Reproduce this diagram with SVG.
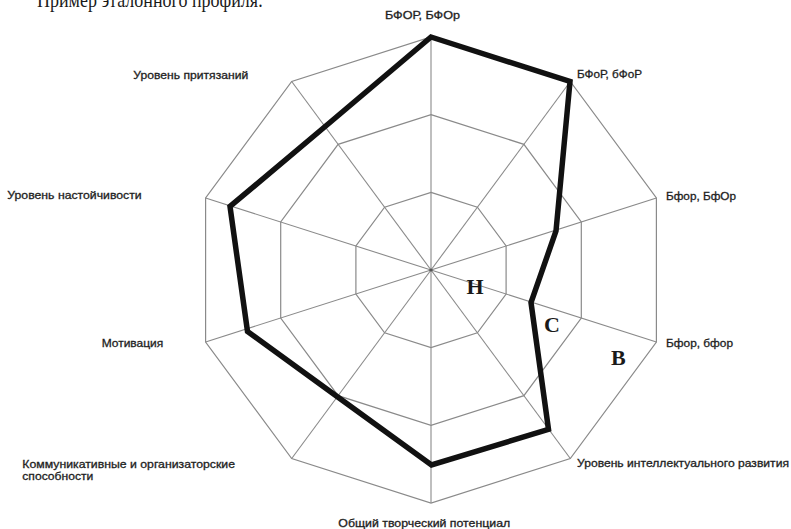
<svg xmlns="http://www.w3.org/2000/svg" width="791" height="529" viewBox="0 0 791 529">
<style>
.grid{fill:none;stroke:#8a8a8a;stroke-width:1.2}
.axis{stroke:#8a8a8a;stroke-width:1.1}
.prof{fill:none;stroke:#111;stroke-width:5.5;stroke-linejoin:miter}
.lbl{font-family:"Liberation Sans",Arial,sans-serif;font-size:11px;fill:#1e1e1e;stroke:#1e1e1e;stroke-width:0.3}
.zone{font-family:"Liberation Serif","Times New Roman",serif;font-size:22px;font-weight:bold;fill:#1a1a1a}
.title{font-family:"Liberation Serif","Times New Roman",serif;font-size:22px;fill:#1a1a1a}
</style>
<rect width="791" height="529" fill="#fff"/>
<text class="title" x="37" y="7" textLength="226" lengthAdjust="spacingAndGlyphs">Пример эталонного профиля:</text>
<g id="grid">
<polygon class="grid" points="431,37 570.3,81.5 656.4,198 656.4,342 570.3,458.5 431,503 291.7,458.5 205.6,342 205.6,198 291.7,81.5"/>
<polygon class="grid" points="431,114.67 523.9,144.33 581.3,222 581.3,318 523.9,395.67 431,425.33 338.1,395.67 280.7,318 280.7,222 338.1,144.33"/>
<polygon class="grid" points="431,192.33 477.4,207.17 506.1,246 506.1,294 477.4,332.83 431,347.67 384.6,332.83 355.9,294 355.9,246 384.6,207.17"/>
</g>
<g id="connectors">
<line class="axis" x1="431" y1="270" x2="431" y2="37"/>
<line class="axis" x1="431" y1="270" x2="570.3" y2="81.5"/>
<line class="axis" x1="431" y1="270" x2="656.4" y2="198"/>
<line class="axis" x1="431" y1="270" x2="656.4" y2="342"/>
<line class="axis" x1="431" y1="270" x2="570.3" y2="458.5"/>
<line class="axis" x1="431" y1="270" x2="431" y2="503"/>
<line class="axis" x1="431" y1="270" x2="291.7" y2="458.5"/>
<line class="axis" x1="431" y1="270" x2="205.6" y2="342"/>
<line class="axis" x1="431" y1="270" x2="205.6" y2="198"/>
<line class="axis" x1="431" y1="270" x2="291.7" y2="81.5"/>
<circle cx="431" cy="270" r="1.6" fill="#555"/>
</g>
<g id="profile">
<polygon class="prof" points="431,37 570,81.5 556,231 531,302.5 548.5,429.3 431.5,465 337.4,396.7 247.5,331.5 230,206.5 330.5,122"/>
</g>
<g id="zones">
<text class="zone" x="466.5" y="293.5">Н</text>
<text class="zone" x="544" y="332">С</text>
<text class="zone" x="611" y="365">В</text>
</g>
<g id="n0"><text class="lbl" x="385" y="18.5" textLength="75" lengthAdjust="spacingAndGlyphs">БФОР, БФОр</text></g>
<g id="n1"><text class="lbl" x="577" y="78.3" textLength="65" lengthAdjust="spacingAndGlyphs">БФоР, бФоР</text></g>
<g id="n2"><text class="lbl" x="666" y="200" textLength="70" lengthAdjust="spacingAndGlyphs">Бфор, БфОр</text></g>
<g id="n3"><text class="lbl" x="666" y="347.3" textLength="67" lengthAdjust="spacingAndGlyphs">Бфор, бфор</text></g>
<g id="n4"><text class="lbl" x="577" y="467.3" textLength="212" lengthAdjust="spacingAndGlyphs">Уровень интеллектуального развития</text></g>
<g id="n5"><text class="lbl" x="338.3" y="526.5" textLength="172" lengthAdjust="spacingAndGlyphs">Общий творческий потенциал</text></g>
<g id="n6"><text class="lbl" x="22.3" y="467.5" textLength="212.7" lengthAdjust="spacingAndGlyphs">Коммуникативные и организаторские</text><text class="lbl" x="22.3" y="479.5" textLength="71" lengthAdjust="spacingAndGlyphs">способности</text></g>
<g id="n7"><text class="lbl" x="101.7" y="347.3" textLength="61.6" lengthAdjust="spacingAndGlyphs">Мотивация</text></g>
<g id="n8"><text class="lbl" x="7.3" y="199.3" textLength="134.4" lengthAdjust="spacingAndGlyphs">Уровень настойчивости</text></g>
<g id="n9"><text class="lbl" x="133.3" y="79" textLength="115" lengthAdjust="spacingAndGlyphs">Уровень притязаний</text></g>
</svg>
